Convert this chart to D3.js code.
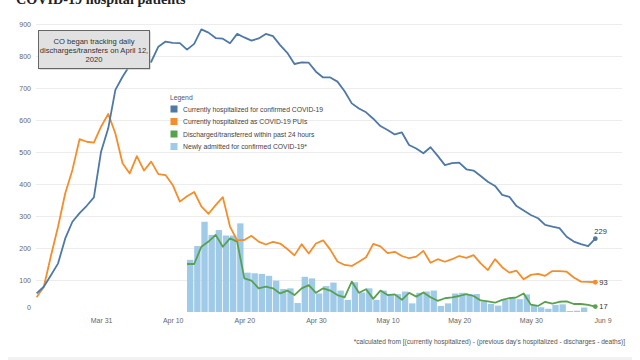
<!DOCTYPE html>
<html>
<head>
<meta charset="utf-8">
<script src="https://cdn.jsdelivr.net/npm/d3@7"></script>
<style>
  body { margin: 0; background: #fff; }
  svg { display: block; font-family: "Liberation Sans", Arial, sans-serif; }
</style>
</head>
<body>
<div id="chart"></div>
<script>
// daily values, Mar 22 - Jun 8 2020
const confirmed = [58, 79, 115, 152, 230, 282, 309, 332, 358, 501,
  574, 694, 735, 770, 795, 788, 782, 829, 845, 841, 840, 820, 838, 883, 873, 856, 854, 840, 869, 858,
  848, 855, 869, 862, 834, 810, 775, 780, 779, 751,
  733, 733, 720, 690, 652, 636, 624, 604, 581, 569, 555, 561, 522, 511, 496, 515, 488, 459, 465, 467,
  446, 442, 425, 407, 394, 366, 360, 331, 317, 303, 293,
  272, 267, 262, 235, 220, 212, 206, 229];
const puis = [46, 78, 175, 267, 371, 444, 540, 532, 529, 579,
  619, 558, 465, 433, 487, 442, 470, 431, 428, 397, 345, 362, 375, 330, 307, 334, 359, 267, 224, 225,
  238, 220, 211, 219, 214, 197, 177, 212, 183, 214,
  224, 195, 158, 147, 144, 157, 171, 213, 205, 184, 188, 175, 168, 173, 191, 154, 165, 157, 165, 175,
  169, 178, 152, 131, 165, 140, 123, 129, 102, 116, 119,
  113, 128, 128, 126, 108, 95, 94, 93];
// tracked from Apr 12
const discharged = [150, 150, 204, 220, 241, 204, 230, 220, 105, 98, 74, 79, 74, 58, 67, 53, 74, 84, 60,
  74, 67, 53, 46, 95, 60, 71, 41, 67, 53, 55, 38, 60, 48, 61, 46, 35, 43, 46, 50, 56, 50, 36, 33, 29, 38,
  43, 46, 58, 23, 19,
  32, 26, 32, 33, 25, 25, 22, 17];
// Apr 12 - Jun 6
const admitted = [163, 206, 282, 241, 256, 239, 239, 277, 123, 121, 119, 113, 98, 72, 74, 28, 110, 105, 58,
  81, 92, 67, 38, 93, 61, 74, 38, 67, 56, 56, 64, 27, 60, 64, 67, 19, 27, 58, 60, 56, 56, 33, 25, 20, 38,
  46, 40, 55, 22, 15,
  10, 22, 24, 3, 4, 14];

const tickDates = ["2020-03-31", "2020-04-10", "2020-04-20", "2020-04-30", "2020-05-10", "2020-05-20", "2020-05-30", "2020-06-09"];
const yTicks = [0, 100, 200, 300, 400, 500, 600, 700, 800, 900];
const legendLabels = [
  "Currently hospitalized for confirmed COVID-19",
  "Currently hospitalized as COVID-19 PUIs",
  "Discharged/transferred within past 24 hours",
  "Newly admitted for confirmed COVID-19*"
];
const colors = ["#4e79a7", "#f28e2b", "#59a14f", "#a0cbe8"];

const width = 640, height = 360;
const day = 864e5;
const start = Date.UTC(2020, 2, 22);
const trackStart = Date.UTC(2020, 3, 12);

const svg = d3.select("#chart").append("svg")
  .attr("width", width)
  .attr("height", height);

const x = d3.scaleUtc()
  .domain([new Date(start), new Date(Date.UTC(2020, 5, 8))])
  .range([36.6, 595.3]);
const y = d3.scaleLinear()
  .domain([0, 900])
  .range([312, 24]);

// title, mostly cut off at the top
svg.append("text")
  .attr("x", 16).attr("y", 3.5)
  .attr("font-family", "'Liberation Serif', 'Times New Roman', serif")
  .attr("font-weight", "bold")
  .attr("font-size", 14.2)
  .attr("fill", "#222")
  .text("COVID-19 hospital patients");

// gridlines
svg.append("g")
  .selectAll("line")
  .data(yTicks.filter(d => d > 0))
  .enter().append("line")
    .attr("x1", 36).attr("x2", 622)
    .attr("y1", d => y(d) + 0.5).attr("y2", d => y(d) + 0.5)
    .attr("stroke", "#ececec")
    .attr("stroke-width", 1);

// y axis labels
const yAxis = svg.append("g")
  .attr("transform", "translate(33,0)")
  .call(d3.axisLeft(y).tickValues(yTicks).tickSize(0).tickPadding(2));
yAxis.select(".domain").remove();
yAxis.selectAll("text")
  .attr("font-family", "'Liberation Sans', Arial, sans-serif")
  .attr("font-size", 7)
  .attr("fill", "#666")
  .attr("dy", d => d === 0 ? "-0.4em" : "0.32em");

// x axis labels
const xAxis = svg.append("g")
  .attr("transform", "translate(0,315)")
  .call(d3.axisBottom(x)
    .tickValues(tickDates.map(d => new Date(d + "T00:00:00Z")))
    .tickFormat(d3.utcFormat("%b %-d"))
    .tickSize(0).tickPadding(3));
xAxis.select(".domain").remove();
xAxis.selectAll("text")
  .attr("font-family", "'Liberation Sans', Arial, sans-serif")
  .attr("font-size", 7)
  .attr("fill", "#666");

// newly admitted bars
svg.append("g")
  .selectAll("rect")
  .data(admitted)
  .enter().append("rect")
    .attr("x", (d, i) => x(new Date(trackStart + i * day)))
    .attr("width", (d, i) => x(new Date(trackStart + (i + 1) * day)) - x(new Date(trackStart + i * day)) - 0.8)
    .attr("y", d => y(d))
    .attr("height", d => y(0) - y(d))
    .attr("fill", colors[3]);

// lines
const series = [
  { values: confirmed, start: start, color: colors[0], label: "229", dy: -5 },
  { values: puis, start: start, color: colors[1], label: "93", dy: 2.5 },
  { values: discharged, start: trackStart, color: colors[2], label: "17", dy: 2.5 }
];
const line = d3.line()
  .x(d => x(d.date))
  .y(d => y(d.value));

series.slice().reverse().forEach(s => {
  const pts = s.values.map((v, i) => ({ date: new Date(s.start + i * day), value: v }));
  svg.append("path")
    .datum(pts)
    .attr("d", line)
    .attr("fill", "none")
    .attr("stroke", s.color)
    .attr("stroke-width", 1.8)
    .attr("stroke-linejoin", "round");
  const last = pts[pts.length - 1];
  svg.append("circle")
    .attr("cx", x(last.date)).attr("cy", y(last.value))
    .attr("r", 2.4)
    .attr("fill", s.color);
  svg.append("text")
    .attr("x", x(last.date) + (s.dy < 0 ? -1 : 4))
    .attr("y", y(last.value) + s.dy)
    .attr("font-size", 7.5)
    .attr("fill", "#333")
    .text(s.label);
});

// annotation box
const note = svg.append("g");
note.append("rect")
  .attr("x", 39.5).attr("y", 31.5).attr("width", 111).attr("height", 38)
  .attr("fill", "#bbb");
note.append("rect")
  .attr("x", 38.5).attr("y", 30.5).attr("width", 111).attr("height", 38)
  .attr("fill", "#e1e1e1")
  .attr("stroke", "#666");
note.selectAll("text.note")
  .data(["CO began tracking daily", "discharges/transfers on April 12,", "2020"])
  .enter().append("text")
    .attr("class", "note")
    .attr("x", 94).attr("y", (d, i) => 43.5 + i * 9.2)
    .attr("text-anchor", "middle")
    .attr("font-size", 7.6)
    .attr("fill", "#333")
    .text(d => d);

// legend
const legend = svg.append("g").attr("transform", "translate(170,0)");
legend.append("text")
  .attr("x", 0).attr("y", 99.5)
  .attr("font-size", 6.8)
  .attr("fill", "#555")
  .text("Legend");
legend.selectAll("rect")
  .data(legendLabels)
  .enter().append("rect")
    .attr("x", 0.5).attr("y", (d, i) => 105.5 + i * 12.5)
    .attr("width", 7).attr("height", 7)
    .attr("fill", (d, i) => colors[i]);
legend.selectAll("text.item")
  .data(legendLabels)
  .enter().append("text")
    .attr("class", "item")
    .attr("x", 13).attr("y", (d, i) => 111.5 + i * 12.5)
    .attr("font-size", 6.8)
    .attr("fill", "#444")
    .text(d => d);

// footnote
svg.append("text")
  .attr("x", 625).attr("y", 344)
  .attr("text-anchor", "end")
  .attr("font-size", 6.6)
  .attr("fill", "#555")
  .text("*calculated from [(currently hospitalized) - (previous day's hospitalized - discharges - deaths)]");

// grey strip at the bottom edge
svg.append("rect")
  .attr("x", 8).attr("y", 357).attr("width", 624).attr("height", 3)
  .attr("fill", "#f2f2f2");
</script>
</body>
</html>
